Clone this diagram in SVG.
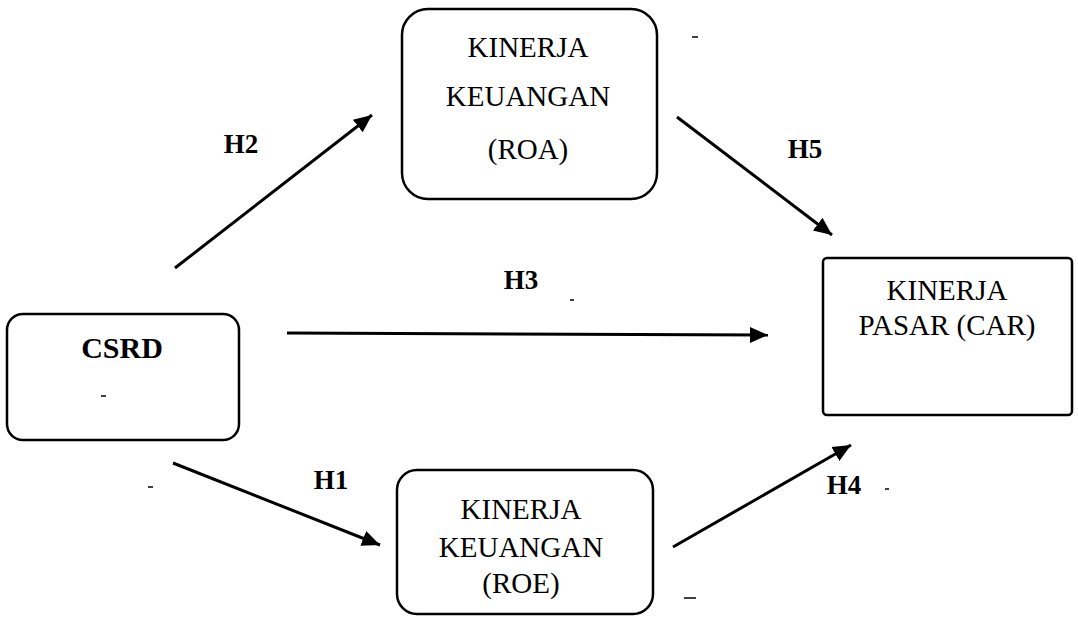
<svg xmlns="http://www.w3.org/2000/svg" width="1078" height="618" viewBox="0 0 1078 618">
<style>
.box{fill:#fff;stroke:#000;stroke-width:2.5}
.t{font-family:'Liberation Serif','Times New Roman',serif;font-size:29px;fill:#000;text-anchor:middle}
.b{font-family:'Liberation Serif','Times New Roman',serif;font-size:27px;font-weight:bold;fill:#000;text-anchor:middle}
.c{stroke:#000;stroke-width:3;fill:none;marker-end:url(#ah)}
.sp{stroke:#000;stroke-width:1.5}
</style>
<defs>
<marker id="ah" markerUnits="userSpaceOnUse" markerWidth="20" markerHeight="20" viewBox="0 0 20 20" refX="18" refY="10" orient="auto">
<path d="M0,2 L18,10 L0,18 Z" fill="#000"/>
</marker>
</defs>
<rect width="1078" height="618" fill="#fff"/>
<g id="roa">
<rect class="box" x="402" y="9" width="255" height="190" rx="26"/>
<text class="t" x="528" y="57">KINERJA</text>
<text class="t" x="528" y="106">KEUANGAN</text>
<text class="t" x="528" y="159">(ROA)</text>
</g>
<g id="csrd">
<rect class="box" x="7" y="314" width="232" height="126" rx="16"/>
<text class="b" x="122" y="358" style="font-size:30px">CSRD</text>
</g>
<g id="car">
<rect class="box" x="823" y="258" width="249" height="157" rx="4"/>
<text class="t" x="947" y="300">KINERJA</text>
<text class="t" x="947" y="335">PASAR (CAR)</text>
</g>
<g id="roe">
<rect class="box" x="397" y="470" width="256" height="144" rx="20"/>
<text class="t" x="521" y="519">KINERJA</text>
<text class="t" x="521" y="557">KEUANGAN</text>
<text class="t" x="521" y="593">(ROE)</text>
</g>
<g id="connectors">
<line class="c" x1="175" y1="268" x2="372" y2="115"/>
<line class="c" x1="677" y1="117" x2="832" y2="235"/>
<line class="c" x1="287" y1="333" x2="768" y2="335"/>
<line class="c" x1="173" y1="463" x2="380" y2="545"/>
<line class="c" x1="673" y1="547" x2="851" y2="445"/>
</g>
<g id="labels">
<text class="b" x="241" y="153">H2</text>
<text class="b" x="805" y="158">H5</text>
<text class="b" x="521" y="289">H3</text>
<text class="b" x="331" y="489">H1</text>
<text class="b" x="844" y="494">H4</text>
</g>
<g id="specks">
<line class="sp" x1="692" y1="37" x2="698" y2="37"/>
<line class="sp" x1="101" y1="396" x2="106" y2="396"/>
<line class="sp" x1="570" y1="300" x2="574" y2="300"/>
<line class="sp" x1="148" y1="487" x2="153" y2="487"/>
<line class="sp" x1="885" y1="489" x2="889" y2="489"/>
<line class="sp" x1="684" y1="598" x2="696" y2="598"/>
</g>
</svg>
